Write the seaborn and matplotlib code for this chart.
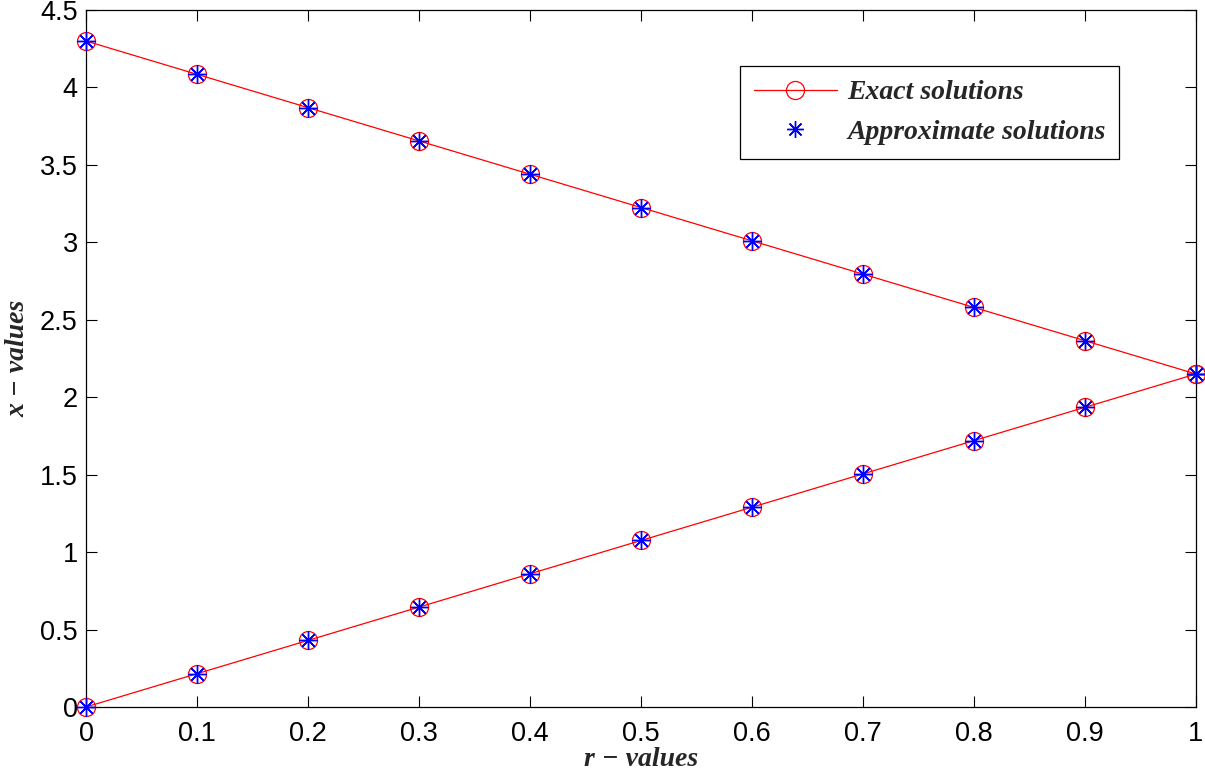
import numpy as np
import pandas as pd
import matplotlib
matplotlib.use("Agg")
import matplotlib.pyplot as plt
import seaborn as sns
from matplotlib.lines import Line2D

# data
r_values = [0.0, 0.1, 0.2, 0.3, 0.4, 0.5, 0.6, 0.7, 0.8, 0.9, 1.0]
upper_exact = [4.30, 4.085, 3.87, 3.655, 3.44, 3.225, 3.01, 2.795, 2.58, 2.365, 2.15]
lower_exact = [0.0, 0.215, 0.43, 0.645, 0.86, 1.075, 1.29, 1.505, 1.72, 1.935, 2.15]
upper_approx = [4.30, 4.085, 3.87, 3.655, 3.44, 3.225, 3.01, 2.795, 2.58, 2.365, 2.15]
lower_approx = [0.0, 0.215, 0.43, 0.645, 0.86, 1.075, 1.29, 1.505, 1.72, 1.935, 2.15]
xtick_vals = [0, 0.1, 0.2, 0.3, 0.4, 0.5, 0.6, 0.7, 0.8, 0.9, 1]
xtick_labels = ["0", "0.1", "0.2", "0.3", "0.4", "0.5", "0.6", "0.7", "0.8", "0.9", "1"]
ytick_vals = [0, 0.5, 1, 1.5, 2, 2.5, 3, 3.5, 4, 4.5]
ytick_labels = ["0", "0.5", "1", "1.5", "2", "2.5", "3", "3.5", "4", "4.5"]

sns.set_style("white")
plt.rcParams['font.family'] = ['Liberation Sans', 'DejaVu Sans']

exact = pd.DataFrame({'r': r_values * 2,
                      'x': upper_exact + lower_exact,
                      'branch': ['upper'] * 11 + ['lower'] * 11})
approx = pd.DataFrame({'r': r_values * 2,
                       'x': upper_approx + lower_approx})

fig = plt.figure(figsize=(12.05, 7.74), dpi=100)
ax = fig.add_axes([0.0714, 0.0866, 0.9211, 0.9004])

star = (8, 2, 0)
for b in ['upper', 'lower']:
    sub = exact[exact['branch'] == b]
    sns.lineplot(data=sub, x='r', y='x', ax=ax, color='red', linewidth=0.9,
                 marker='o', markersize=13, markerfacecolor='none',
                 markeredgecolor='red', markeredgewidth=0.9, estimator=None,
                 sort=False, legend=False, clip_on=False, zorder=4)
sns.scatterplot(data=approx, x='r', y='x', ax=ax, marker=star, s=150,
                color='blue', edgecolor='blue', linewidth=1.0, legend=False,
                zorder=5, clip_on=False)

ax.set_xlim(0, 1)
ax.set_ylim(0, 4.5)
ax.set_xticks(xtick_vals)
ax.set_xticklabels(xtick_labels)
ax.set_yticks(ytick_vals)
ax.set_yticklabels(ytick_labels)
ax.tick_params(direction='in', length=8, width=0.8, labelsize=19.5, pad=10,
               top=True, right=True, bottom=True, left=True, colors='black')
ax.tick_params(axis='y', pad=6)
for s in ax.spines.values():
    s.set_color('black')
    s.set_linewidth(0.9)
ax.grid(False)

lab_font = dict(family=['Liberation Serif', 'DejaVu Serif'], style='italic',
                weight='bold', size=20)
ax.set_xlabel('r − values', fontdict=lab_font, labelpad=0)
ax.set_ylabel('x − values', fontdict=lab_font, labelpad=7)

handles = [Line2D([], [], color='red', linewidth=0.9, marker='o', markersize=13,
                  markerfacecolor='none', markeredgecolor='red', markeredgewidth=0.9),
           Line2D([], [], linestyle='none', marker=star, markersize=12,
                  color='blue', markeredgewidth=1.0)]
leg = ax.legend(handles, ['Exact solutions', 'Approximate solutions'],
                loc='upper left', bbox_to_anchor=(0.589, 0.9195), fancybox=False,
                framealpha=1, edgecolor='black', handlelength=3.0,
                borderpad=0.5, labelspacing=0.5, handletextpad=0.36,
                borderaxespad=0,
                prop=dict(family=['Liberation Serif', 'DejaVu Serif'],
                          style='italic', weight='bold', size=20))
leg.get_frame().set_linewidth(0.9)
leg.set_zorder(10)

fig.savefig('out.png', dpi=100)
